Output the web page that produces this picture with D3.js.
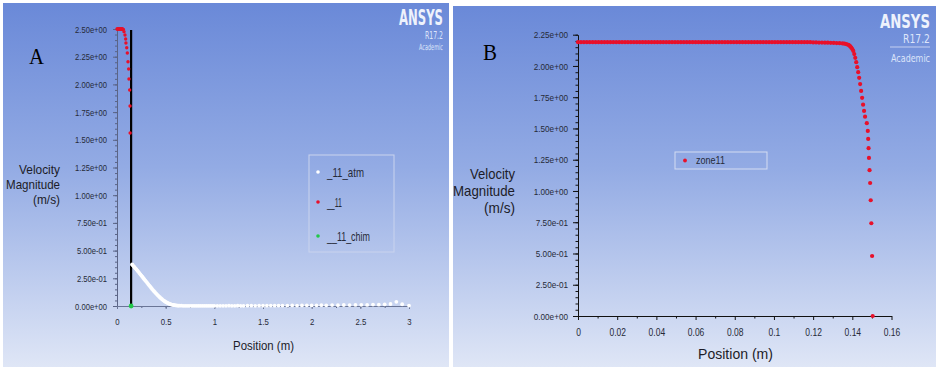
<!DOCTYPE html>
<html><head><meta charset="utf-8">
<script src="https://cdn.jsdelivr.net/npm/d3@7"></script>
<style>html,body{margin:0;padding:0;background:#fff;overflow:hidden}</style>
</head><body><svg id="c" width="936" height="367"></svg>
<script>
// ---------- DATA ----------
// Panel A : series "_11_atm"
const atmX = [0.155,0.16,0.17,0.18,0.19,0.20,0.21,0.22,0.23,0.24,0.25,0.26,0.27,0.28,0.29,0.30,0.31,0.32,0.33,0.34,0.35,0.36,0.37,0.38,0.39,0.40,0.41,0.42,0.43,0.44,0.45,0.46,0.47,0.48,0.49,0.50,0.51,0.52,0.53,0.54,0.55,0.56,0.57,0.58,0.59,0.60,0.61,0.62,0.63,0.64,0.66,0.68,0.70,0.72,0.74,0.76,0.78,0.80,0.82,0.84,0.86,0.88,0.90,0.92,0.94,0.96,0.98,1.00,1.03,1.06,1.09,1.12,1.15,1.18,1.21,1.24,1.27,1.30,1.34,1.38,1.42,1.46,1.50,1.54,1.58,1.62,1.66,1.70,1.75,1.80,1.85,1.90,1.95,2.00,2.05,2.10,2.15,2.21,2.27,2.33,2.39,2.45,2.51,2.57,2.63,2.69,2.75,2.81,2.87,2.93,3.00];
const atmV = [0.375,0.370,0.360,0.350,0.340,0.330,0.319,0.308,0.297,0.286,0.275,0.264,0.253,0.242,0.231,0.220,0.209,0.198,0.187,0.176,0.165,0.154,0.144,0.134,0.124,0.114,0.105,0.096,0.087,0.079,0.071,0.063,0.056,0.049,0.043,0.037,0.032,0.027,0.023,0.019,0.016,0.013,0.011,0.009,0.007,0.006,0.005,0.004,0.004,0.003,0.003,0.002,0.002,0.002,0.002,0.002,0.002,0.002,0.002,0.002,0.002,0.002,0.002,0.002,0.002,0.002,0.002,0.002,0.002,0.002,0.002,0.002,0.003,0.002,0.002,0.003,0.002,0.002,0.003,0.003,0.002,0.003,0.003,0.003,0.004,0.003,0.004,0.004,0.004,0.005,0.004,0.005,0.006,0.005,0.006,0.007,0.006,0.008,0.007,0.009,0.008,0.010,0.011,0.010,0.013,0.012,0.015,0.018,0.038,0.016,0.004];
// Panel A : series "__11"
const a11X = [0,0.005,0.01,0.015,0.02,0.025,0.03,0.035,0.04,0.045,0.05,0.055,0.06,0.065,0.072,0.082,0.089,0.092,0.100,0.106,0.113,0.120,0.123,0.130,0.134,0.135];
const a11V = [2.5,2.5,2.5,2.5,2.5,2.5,2.5,2.5,2.5,2.5,2.5,2.5,2.498,2.495,2.476,2.446,2.410,2.374,2.331,2.283,2.205,2.139,2.049,1.950,1.805,1.561];
// Panel A : series "__11_chim"
const chimX = [0.145];
const chimV = [0];
// Panel A : chimney wall (vertical line)
const wallX = [0.145, 0.145];
const wallV = [0, 2.49];
// Panel A ticks / legend
const yTicksA = [0,0.25,0.5,0.75,1.0,1.25,1.5,1.75,2.0,2.25,2.5];
const xTicksA = [0,0.5,1,1.5,2,2.5,3];
const legendA = ["_11_atm","__11","__11_chim"];

// Panel B : series "zone11"
const zoneX = [0,0.0015,0.003,0.0045,0.006,0.0075,0.009,0.0105,0.012,0.0135,0.015,0.0165,0.018,0.0195,0.021,0.0225,0.024,0.0255,0.027,0.0285,0.030,0.0315,0.033,0.0345,0.036,0.0375,0.039,0.0405,0.042,0.0435,0.045,0.0465,0.048,0.0495,0.051,0.0525,0.054,0.0555,0.057,0.0585,0.060,0.0615,0.063,0.0645,0.066,0.0675,0.069,0.0705,0.072,0.0735,0.075,0.0765,0.078,0.0795,0.081,0.0825,0.084,0.0855,0.087,0.0885,0.090,0.0915,0.093,0.0945,0.096,0.0975,0.099,0.1005,0.102,0.1035,0.105,0.1065,0.108,0.1095,0.111,0.1125,0.114,0.1155,0.117,0.1185,0.120,0.1215,0.123,0.1245,0.126,0.1275,0.129,0.1305,0.132,0.1335,0.135,0.136,0.137,0.138,0.1386,0.139,0.1395,0.140,0.1405,0.141,0.1415,0.142,0.1425,0.143,0.1435,0.144,0.1445,0.145,0.1455,0.146,0.1465,0.1474,0.1479,0.1481,0.1483,0.1485,0.1488,0.1491,0.1494,0.1497,0.1501,0.1504];
const zoneV = [2.19,2.19,2.19,2.19,2.19,2.19,2.19,2.19,2.19,2.19,2.19,2.19,2.19,2.19,2.19,2.19,2.19,2.19,2.19,2.19,2.19,2.19,2.19,2.19,2.19,2.19,2.19,2.19,2.19,2.19,2.19,2.19,2.19,2.19,2.19,2.19,2.19,2.19,2.19,2.19,2.19,2.19,2.19,2.19,2.19,2.19,2.19,2.19,2.19,2.19,2.19,2.19,2.19,2.19,2.19,2.19,2.19,2.19,2.19,2.19,2.19,2.19,2.19,2.19,2.19,2.19,2.19,2.19,2.19,2.19,2.19,2.19,2.19,2.19,2.19,2.19,2.19,2.19,2.19,2.19,2.188,2.188,2.187,2.187,2.186,2.186,2.185,2.184,2.183,2.182,2.180,2.178,2.174,2.168,2.162,2.155,2.146,2.135,2.12,2.095,2.065,2.03,1.99,1.95,1.905,1.855,1.80,1.745,1.69,1.64,1.594,1.542,1.48,1.416,1.342,1.264,1.166,1.064,0.926,0.742,0.48,0.0];
const yTicksB = [0,0.25,0.5,0.75,1.0,1.25,1.5,1.75,2.0,2.25];
const xTicksB = [0,0.02,0.04,0.06,0.08,0.1,0.12,0.14,0.16];
const legendB = ["zone11"];

// ---------- DRAW ----------
const svg = d3.select("#c");
const defs = svg.append("defs");
const g = defs.append("linearGradient").attr("id","bg").attr("x1",0).attr("y1",0).attr("x2",0).attr("y2",1);
g.append("stop").attr("offset","0%").attr("stop-color","#6a89d8");
g.append("stop").attr("offset","45%").attr("stop-color","#93abe4");
g.append("stop").attr("offset","100%").attr("stop-color","#dfe6f6");

svg.append("rect").attr("x",3).attr("y",3).attr("width",446).attr("height",364).attr("fill","url(#bg)");
svg.append("rect").attr("x",453).attr("y",6).attr("width",483).attr("height",361).attr("fill","url(#bg)");

function fmtE(v){
  const s = v.toExponential(2);
  const [m,e] = s.split("e");
  const sign = e[0]==="-" ? "-" : "+";
  const d = e.replace(/[+-]/,"").padStart(2,"0");
  return m+"e"+sign+d;
}
// text squeezed horizontally to a target width via a scale transform
function txt(parent, x, y, str, o){
  const t = parent.append("text").attr("x",0).attr("y",0).text(str)
    .attr("font-family", o.family || "Liberation Sans, Arial, sans-serif")
    .attr("font-size", o.size).attr("fill", o.fill || "#222")
    .attr("text-anchor", o.anchor || "start");
  if (o.weight) t.attr("font-weight", o.weight);
  let sx = 1;
  if (o.len) { const nat = t.node().getComputedTextLength(); if (nat>0) sx = o.len/nat; }
  t.attr("transform", `translate(${x},${y}) scale(${sx},1)`);
  return t;
}
function styleAxis(sel, col, sx, gap, isLeft){
  sel.select(".domain").attr("stroke", col).attr("stroke-width",1);
  sel.selectAll(".tick line").attr("stroke", col);
  sel.selectAll(".tick text").attr("fill","#262a38").attr("font-family","Liberation Sans, Arial, sans-serif");
  if (isLeft) {
    sel.selectAll(".tick text").attr("x", -gap/sx).attr("transform", `scale(${sx},1)`);
  } else {
    sel.selectAll(".tick text").attr("transform", `scale(${sx},1)`).attr("x",0);
  }
}

// ===== Panel A =====
const xA = d3.scaleLinear([0,3],[117,409]);
const yA = d3.scaleLinear([0,2.5],[306,29]);
const pA = svg.append("g");

pA.append("g").attr("transform","translate(117,0)")
  .call(d3.axisLeft(yA).tickValues(d3.range(0,2.5001,0.05)).tickSize(2).tickSizeOuter(0).tickFormat(""))
  .call(s=>{s.select(".domain").remove(); s.selectAll("line").attr("stroke","#5a6486");});
pA.append("g").attr("transform","translate(0,306)")
  .call(d3.axisBottom(xA).tickValues(d3.range(0,3.001,0.25)).tickSize(2).tickSizeOuter(0).tickFormat(""))
  .call(s=>{s.select(".domain").remove(); s.selectAll("line").attr("stroke","#5a6486");});

const ayA = pA.append("g").attr("transform","translate(117,0)")
  .call(d3.axisLeft(yA).tickValues(yTicksA).tickFormat(fmtE).tickSize(4).tickSizeOuter(0));
ayA.selectAll(".tick text").attr("font-size",9.5);
styleAxis(ayA, "#5a6486", 0.8, 10, true);
const axA = pA.append("g").attr("transform","translate(0,306)")
  .call(d3.axisBottom(xA).tickValues(xTicksA).tickFormat(d3.format("")).tickSize(3).tickSizeOuter(0).tickPadding(9));
axA.selectAll(".tick text").attr("font-size",9.5);
styleAxis(axA, "#6a7596", 0.82, 0, false);

pA.append("path").datum(wallX.map((x,i)=>[x,wallV[i]]))
  .attr("d", d3.line().x(d=>xA(d[0])).y(d=>yA(d[1])))
  .attr("stroke","#000").attr("stroke-width",2.2).attr("fill","none");

pA.append("g").selectAll("circle").data(atmX.map((x,i)=>[x,atmV[i]])).join("circle")
  .attr("cx",d=>xA(d[0])).attr("cy",d=>yA(d[1])).attr("r",1.9).attr("fill","#ffffff");
pA.append("g").selectAll("circle").data(a11X.map((x,i)=>[x,a11V[i]])).join("circle")
  .attr("cx",d=>xA(d[0])).attr("cy",d=>yA(d[1])).attr("r",1.7).attr("fill","#e8102a");
pA.append("g").selectAll("circle").data(chimX.map((x,i)=>[x,chimV[i]])).join("circle")
  .attr("cx",d=>xA(d[0])).attr("cy",d=>yA(d[1])).attr("r",2.4).attr("fill","#22c84a");

// legend A
pA.append("rect").attr("x",309).attr("y",155).attr("width",85).attr("height",97)
  .attr("fill","none").attr("stroke","#c9d3ee").attr("stroke-width",1);
const legColA = ["#ffffff","#e8102a","#22c84a"];
const legY = [172,202,236];
legendA.forEach((n,i)=>{
  pA.append("circle").attr("cx",318).attr("cy",legY[i]).attr("r",1.8).attr("fill",legColA[i]);
  txt(pA, 327, legY[i]+4.5, n, {size:12, fill:"#262a38", len: [37,15,43][i]});
});

// titles A
txt(pA, 60, 174, "Velocity", {size:12.5, anchor:"end", fill:"#1c1c28", len:41});
txt(pA, 60, 189, "Magnitude", {size:12.5, anchor:"end", fill:"#1c1c28", len:54});
txt(pA, 60, 204, "(m/s)", {size:12.5, anchor:"end", fill:"#1c1c28", len:27});
txt(pA, 263.5, 350, "Position (m)", {size:12.5, anchor:"middle", fill:"#1c1c28", len:61});
txt(pA, 36.5, 64, "A", {size:23, anchor:"middle", fill:"#000", family:"Liberation Serif, Times New Roman, serif", len:15});

// ANSYS logo A
txt(pA, 443, 24.5, "ANSYS", {size:21, anchor:"end", fill:"#eef2fc", weight:"bold", family:"DejaVu Sans, sans-serif", len:44});
txt(pA, 443, 38.5, "R17.2", {size:10, anchor:"end", fill:"#dde5fa", family:"DejaVu Sans, sans-serif", len:18});
txt(pA, 443, 50, "Academic", {size:8.5, anchor:"end", fill:"#dde5fa", family:"DejaVu Sans, sans-serif", len:24});

// ===== Panel B =====
const xB = d3.scaleLinear([0,0.16],[578,891.5]);
const yB = d3.scaleLinear([0,2.25],[316,34.7]);
const pB = svg.append("g");

pB.append("g").attr("transform","translate(578,0)")
  .call(d3.axisLeft(yB).tickValues(d3.range(0,2.2501,0.05)).tickSize(2.5).tickSizeOuter(0).tickFormat(""))
  .call(s=>{s.select(".domain").remove(); s.selectAll("line").attr("stroke","#111");});
pB.append("g").attr("transform","translate(0,316)")
  .call(d3.axisBottom(xB).tickValues(d3.range(0.01,0.16,0.02)).tickSize(2.5).tickSizeOuter(0).tickFormat(""))
  .call(s=>{s.select(".domain").remove(); s.selectAll("line").attr("stroke","#111");});

const ayB = pB.append("g").attr("transform","translate(578,0)")
  .call(d3.axisLeft(yB).tickValues(yTicksB).tickFormat(fmtE).tickSize(5).tickSizeOuter(0));
ayB.selectAll(".tick text").attr("font-size",9.5);
styleAxis(ayB, "#111", 0.86, 10, true);
const axB = pB.append("g").attr("transform","translate(0,316)")
  .call(d3.axisBottom(xB).tickValues(xTicksB).tickFormat(d3.format("")).tickSize(4).tickSizeOuter(0).tickPadding(9));
axB.selectAll(".tick text").attr("font-size",10);
styleAxis(axB, "#111", 0.85, 0, false);

pB.append("g").selectAll("circle").data(zoneX.map((x,i)=>[x,zoneV[i]])).join("circle")
  .attr("cx",d=>xB(d[0])).attr("cy",d=>yB(d[1])).attr("r",2.1).attr("fill","#e8102a");

// legend B
pB.append("rect").attr("x",675).attr("y",152).attr("width",92).attr("height",17)
  .attr("fill","none").attr("stroke","#d4dcf2").attr("stroke-width",1);
pB.append("circle").attr("cx",685).attr("cy",160.5).attr("r",1.9).attr("fill","#e8102a");
txt(pB, 696, 164, legendB[0], {size:10, fill:"#262a38", len:29});

// titles B
txt(pB, 515, 179, "Velocity", {size:14, anchor:"end", fill:"#1c1c28", len:45});
txt(pB, 515, 196, "Magnitude", {size:14, anchor:"end", fill:"#1c1c28", len:62});
txt(pB, 515, 213, "(m/s)", {size:14, anchor:"end", fill:"#1c1c28", len:31});
txt(pB, 735.5, 359, "Position (m)", {size:14, anchor:"middle", fill:"#1c1c28", len:75});
txt(pB, 490, 60, "B", {size:23, anchor:"middle", fill:"#000", family:"Liberation Serif, Times New Roman, serif", len:14});

// ANSYS logo B
txt(pB, 930, 27.5, "ANSYS", {size:20, anchor:"end", fill:"#eef2fc", weight:"bold", family:"DejaVu Sans, sans-serif", len:50});
txt(pB, 930, 43, "R17.2", {size:12, anchor:"end", fill:"#dde5fa", family:"DejaVu Sans, sans-serif", len:27});
pB.append("line").attr("x1",890).attr("x2",930).attr("y1",47).attr("y2",47).attr("stroke","#d8e0f8").attr("stroke-width",0.8);
txt(pB, 930, 61.5, "Academic", {size:11, anchor:"end", fill:"#dde5fa", family:"DejaVu Sans, sans-serif", len:39});
</script></body></html>
